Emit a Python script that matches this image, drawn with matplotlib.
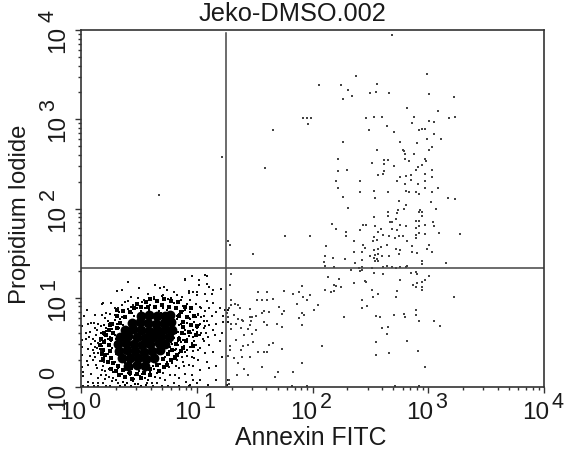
import numpy as np
import matplotlib
matplotlib.use('Agg')
import matplotlib.pyplot as plt
import matplotlib.ticker as tck

plt.rcParams['font.family'] = ['Liberation Sans', 'DejaVu Sans']

title = "Jeko-DMSO.002"
xlabel = "Annexin FITC"
ylabel = "Propidium Iodide"
decades = [0, 1, 2, 3, 4]
gate_x = 17.9
gate_y = 21.5

# all events as (log10 annexin, log10 PI)
core = np.array([
    (.52,.80),(.59,.81),(.66,.80),(.73,.79),(.77,.81),
    (.44,.72),(.51,.73),(.58,.72),(.65,.71),(.72,.72),(.78,.73),
    (.38,.64),(.45,.65),(.52,.64),(.59,.63),(.66,.64),(.73,.65),(.79,.64),
    (.34,.56),(.41,.57),(.48,.56),(.55,.55),(.62,.56),(.69,.57),(.76,.56),
    (.32,.48),(.39,.49),(.46,.48),(.53,.47),(.60,.48),(.67,.49),(.73,.48),
    (.33,.40),(.40,.41),(.47,.40),(.54,.39),(.61,.40),(.68,.41),
    (.35,.32),(.42,.33),(.49,.32),(.56,.31),(.63,.32),
    (.41,.24),(.48,.25),(.55,.24),
])
shell = np.array([
    (.46,.88),(.52,.90),(.58,.90),(.64,.90),(.70,.92),(.76,.90),(.82,.88),(.86,.84),(.42,.84),(.38,.78),
    (.34,.72),(.31,.66),(.28,.60),(.26,.54),(.24,.47),(.25,.40),(.26,.33),(.28,.27),(.32,.24),(.36,.19),
    (.42,.16),(.48,.15),(.54,.16),(.60,.20),(.66,.25),(.71,.31),(.75,.37),(.79,.42),(.82,.48),(.85,.54),
    (.87,.60),(.88,.67),(.88,.73),(.85,.79),
    (.22,.58),(.20,.50),(.19,.42),(.21,.36),(.23,.28),(.30,.18),(.38,.11),(.44,.09),(.52,.10),(.60,.13),
    (.67,.18),(.72,.22),(.78,.30),(.83,.36),(.88,.44),(.91,.52),(.93,.62),(.95,.70),(.92,.78),(.90,.90),
    (.78,.96),(.66,.96),(.56,.95),(.48,.93),(.36,.85),(.31,.79),(.27,.71),(.24,.64),
    (.97,.46),(.99,.58),(1.00,.68),(.98,.80),(.95,.88),(.84,.95),(.72,.99),(.60,.99),(.86,.40),(.81,.33),
    (.74,.25),(.16,.47),(.17,.54),(.18,.37),(.19,.30),(.26,.20),(.33,.14),(.20,.60),(.25,.69),(.31,.86),
])
halo = np.array([
    (.53,.95),(.60,.92),(.66,.97),(.71,.93),(.75,.99),(.80,.94),(.84,.96),(.88,.91),(.92,.93),(.96,.90),
    (.63,.99),(.70,1.02),(.78,1.00),(.86,.98),
    (.29,.81),(.33,.84),(.37,.80),(.41,.87),(.44,.83),(.48,.88),(.52,.85),(.55,.89),(.59,.86),(.63,.88),
    (.67,.85),(.71,.89),(.74,.86),(.78,.84),(.82,.87),(.85,.82),(.88,.85),(.91,.80),(.94,.84),(.97,.79),
    (1.01,.82),(.35,.78),(.46,.80),(.57,.82),(.69,.83),(.76,.82),(.83,.79),(.90,.86),(.99,.78),(.43,.90),
    (.20,.70),(.23,.74),(.26,.68),(.29,.75),(.31,.71),(.34,.76),(.36,.69),(.80,.72),(.83,.76),(.85,.69),
    (.87,.74),(.89,.67),(.92,.72),(.94,.76),(.96,.69),(.98,.73),(1.00,.66),(1.03,.71),(1.06,.74),(.22,.66),
    (.27,.65),(.81,.66),(.86,.71),(.90,.64),(.93,.77),(.97,.64),(1.02,.69),(.25,.72),(.33,.66),(.84,.62),
    (.17,.61),(.20,.58),(.22,.63),(.25,.56),(.27,.61),(.29,.58),(.23,.54),(.18,.55),(.82,.60),(.85,.56),
    (.87,.62),(.90,.59),(.92,.54),(.95,.60),(.97,.56),(1.00,.62),(1.03,.58),(.84,.52),(.88,.53),(.93,.57),
    (.98,.52),(.80,.55),(.78,.50),(.26,.52),(.21,.53),(.30,.54),(.86,.50),(.91,.50),(.96,.49),(.76,.47),
    (.15,.49),(.18,.46),(.21,.50),(.24,.47),(.27,.44),(.29,.49),(.16,.43),(.20,.42),(.25,.41),(.31,.42),
    (.74,.50),(.77,.45),(.79,.48),(.82,.43),(.84,.47),(.87,.42),(.89,.46),(.92,.41),(.94,.45),(.72,.44),
    (.76,.40),(.81,.41),(.85,.38),(.90,.39),(.70,.42),(.68,.38),
    (.17,.36),(.20,.33),(.23,.37),(.27,.34),(.30,.37),(.33,.33),(.19,.30),(.24,.29),(.29,.28),(.35,.30),
    (.38,.27),(.42,.29),(.46,.26),(.50,.30),(.55,.27),(.59,.31),(.63,.28),(.66,.33),(.70,.30),(.73,.34),
    (.77,.31),(.80,.35),(.62,.24),(.68,.26),(.74,.28),(.79,.27),(.57,.23),(.52,.25),(.47,.22),(.41,.24),
    (.24,.20),(.28,.17),(.32,.21),(.35,.15),(.38,.19),(.41,.16),(.44,.20),(.47,.14),(.50,.18),(.53,.15),
    (.56,.19),(.60,.17),(.63,.20),(.66,.16),(.33,.12),(.37,.10),(.42,.13),(.46,.09),(.51,.12),(.55,.10),
    (.36,.06),(.40,.04),(.45,.07),(.49,.03),(.30,.08),(.58,.08),(.64,.11),
    (.34,.01),(.38,.02),(.43,.01),(.47,.03),(.52,.01),(.56,.02),
])
fringe_left = np.array([
    (.03,.79),(.06,.71),(.09,.72),(.18,.93),(.26,.94),(.38,.95),(.43,1.01),(.32,.88),(.22,.83),(.18,.81),
    (.15,.71),(.12,.66),(.04,.61),(.08,.62),(.01,.45),(.04,.54),(.06,.43),(.10,.54),(.08,.35),(.05,.29),
    (.01,.22),(.02,.17),(.06,.25),(.10,.30),(.09,.15),(.15,.38),(.15,.10),(.18,.19),(.13,.25),(.20,.28),
    (.22,.13),(.25,.19),(.28,.10),(.18,.32),(.15,.49),(.12,.45),(.11,.38),(.01,.68),(.005,.36),(.005,.53),
    (.02,.12),(.06,.06),(.10,.04),(.19,.05),(.15,.04),(.05,.86),(.12,.81),
    (.02,.01),(.06,.01),(.11,.01),(.15,.01),(.22,.01),(.25,.01),(.62,.01),(.70,.01),(.75,.01),(.85,.01),(.93,.01),
    (.41,1.18),(.64,1.14),(.35,1.09),(.31,1.08),(.50,1.11),(.90,1.21),(.96,1.24),(1.07,1.25),(1.09,1.15),
    (.19,.94),(.11,.72),(.68,1.11),(.74,1.09),(.93,1.05),(1.00,1.07),(.83,1.03),(.54,.97),(.63,1.01),(.71,1.03),(.45,.92),
    (.13,.58),(.16,.52),(.12,.51),(.14,.44),(.17,.40),(.12,.34),(.16,.29),(.14,.21),(.19,.24),(.21,.18),
    (.17,.14),(.24,.11),(.27,.07),(.32,.04),(.21,.09),(.10,.42),(.09,.48),(.07,.56),(.14,.64),(.17,.68),
    (.21,.77),(.25,.82),(.29,.88),(.35,.92),(.41,.96),(.49,1.00),(.58,1.04),(.80,1.06),(.87,1.01),(.94,.97),
    (.99,.93),(1.03,.90),(1.07,.85),(1.04,.78),(1.09,.74),(1.06,.66),(1.01,.58),(1.08,.60),(1.05,.54),(.99,.47),
    (1.03,.44),(.97,.40),(.92,.35),(.98,.32),(.87,.34),(.83,.30),(.89,.24),(.82,.24),(.76,.22),(.71,.16),
    (.77,.14),(.68,.10),(.73,.08),(.61,.05),(.66,.04),(.57,.05),
])
fringe_right = np.array([
    (1.09,1.24),(1.02,1.20),(.90,1.20),(1.02,1.14),(1.11,1.12),(.72,1.12),(.93,1.08),(.97,1.07),(1.00,1.03),
    (1.07,1.04),(1.13,1.04),(1.21,1.10),(1.20,.88),(1.17,.84),(1.23,.79),(1.14,.94),(1.09,.96),(1.11,.88),
    (1.04,.88),(1.06,.79),(1.13,.79),(1.01,.81),(1.17,.71),(1.23,.73),(1.14,.64),(1.11,.69),(1.07,.68),
    (1.04,.60),(1.10,.56),(1.16,.58),(1.22,.60),(1.20,.51),(1.11,.47),(1.06,.51),(1.01,.41),(1.07,.38),
    (1.14,.39),(1.22,.34),(1.09,.28),(1.01,.30),(.96,.34),(.97,.23),(.93,.25),(.88,.28),(.85,.21),(.90,.15),
    (.96,.13),(1.03,.19),(1.11,.21),(1.17,.23),(.97,.08),(1.03,.08),(.91,.06),(.85,.10),(.81,.13),(.80,.04),
    (1.27,.08),(1.26,.02),(1.27,.86),(1.24,.86),(1.27,.73),(1.14,1.09),(1.17,.08),(1.10,.02),(.94,.02),(1.00,.04),
])
middle = np.array([
    (1.30,1.27),(1.29,1.14),(1.30,.97),(1.30,.92),(1.28,.89),(1.33,.93),(1.36,.92),(1.37,.88),(1.46,.87),
    (1.53,1.07),(1.61,1.07),(1.52,.97),(1.56,.97),(1.61,.97),(1.66,.99),(1.71,.90),(1.58,.85),(1.56,.83),
    (1.62,.84),(1.51,.80),(1.46,.78),(1.48,.78),(1.26,.83),(1.27,.78),(1.32,.81),(1.36,.76),(1.39,.75),
    (1.40,.74),(1.30,.71),(1.34,.71),(1.47,.74),(1.58,.73),(1.61,.69),(1.69,.71),(1.46,.69),(1.44,.65),
    (1.38,.66),(1.30,.65),(1.51,.64),(1.41,.58),(1.34,.53),(1.48,.59),(1.49,.50),(1.44,.47),(1.40,.46),
    (1.62,.47),(1.66,.49),(1.29,.46),(1.29,.41),(1.38,.41),(1.53,.39),(1.58,.39),(1.61,.39),(1.27,.35),
    (1.32,.32),(1.39,.34),(1.46,.34),(1.36,.27),(1.56,.22),(1.41,.20),(1.35,.13),(1.44,.13),(1.70,.17),
    (1.68,.11),(1.28,.08),(1.28,.03),(1.27,1.64),(1.29,1.59),(1.49,1.49),(1.22,2.58),(.67,2.15),(1.59,2.45),(1.66,2.88),
])
apoptotic = np.array([
    (2.69,3.94),(2.38,3.48),(2.99,3.51),(2.06,3.38),(2.25,3.38),(2.56,3.40),(2.31,3.33),(2.34,3.26),(2.26,3.23),
    (2.50,3.29),(2.55,3.30),(2.66,3.29),(3.01,3.28),(3.22,3.25),(2.82,3.13),(1.92,3.01),(1.95,3.01),(1.99,3.01),
    (1.96,2.95),(2.46,3.01),(2.53,3.03),(2.60,3.03),(2.88,3.03),(2.86,2.96),(3.08,3.09),(3.18,3.01),(3.23,3.03),
    (3.01,2.98),(3.05,2.97),(2.64,2.92),(2.49,2.88),(2.70,2.86),(2.92,2.88),(2.95,2.89),(2.97,2.89),(3.05,2.83),
    (3.11,2.78),(2.99,2.78),(2.26,2.75),(2.76,2.75),(2.90,2.73),(3.03,2.69),(3.01,2.66),(2.56,2.65),(2.78,2.66),
    (2.79,2.64),(2.80,2.61),(2.88,2.61),(2.22,2.56),(2.80,2.56),(2.62,2.54),(2.65,2.54),(2.97,2.56),(2.98,2.53),
    (2.51,2.51),(2.62,2.50),(2.83,2.53),(2.70,2.48),(2.95,2.49),(2.91,2.47),(2.22,2.42),(2.30,2.43),(2.62,2.42),
    (2.61,2.39),(2.57,2.38),(2.89,2.43),(3.03,2.43),(2.97,2.39),(2.85,2.38),(2.81,2.36),(2.76,2.35),(2.73,2.31),
    (2.85,2.32),(2.20,2.31),(2.41,2.31),(2.80,2.28),(2.91,2.28),(3.03,2.35),(2.97,2.31),(2.22,2.23),(2.97,2.23),
    (3.08,2.23),(2.53,2.20),(2.41,2.18),(2.65,2.18),(2.81,2.20),(2.83,2.19),(2.89,2.19),(2.92,2.16),(3.03,2.19),
    (2.26,2.13),(2.54,2.12),(2.75,2.08),(3.17,2.12),(3.23,2.11),(3.02,2.07),(2.81,2.04),(2.79,2.00),(2.31,2.01),
    (2.74,1.98),(3.07,2.00),(2.93,1.98),(2.92,1.96),(2.95,1.96),(2.65,1.96),(2.73,1.95),(2.65,1.92),(2.95,1.92),
    (2.53,1.90),(2.72,1.88),(2.69,1.85),(2.67,1.85),(2.89,1.86),(2.92,1.86),(3.04,1.85),(2.17,1.83),(2.44,1.81),
    (2.46,1.81),(2.54,1.80),(2.76,1.81),(2.81,1.80),(2.89,1.78),(2.92,1.80),(2.97,1.81),(3.05,1.80),(2.20,1.77),
    (2.59,1.77),(2.69,1.77),
    (1.76,1.69),(1.98,1.69),(2.29,1.74),(2.29,1.69),(2.41,1.76),(2.53,1.68),(2.57,1.74),(2.61,1.70),(2.66,1.69),
    (2.71,1.67),(2.73,1.76),(2.75,1.69),(2.78,1.69),(2.89,1.70),(2.92,1.72),(2.97,1.71),(3.09,1.73),(3.27,1.71),
    (2.36,1.64),(2.52,1.64),(2.56,1.65),(2.82,1.64),(2.89,1.67),(2.12,1.58),(2.44,1.59),(2.45,1.56),(2.57,1.55),
    (2.64,1.59),(2.59,1.57),(2.76,1.53),(2.72,1.55),(2.86,1.58),(3.01,1.59),(2.99,1.55),(2.36,1.51),(2.43,1.51),
    (2.53,1.53),(2.86,1.51),(2.90,1.50),(3.03,1.51),(2.75,1.49),(2.11,1.47),(2.50,1.47),(2.54,1.48),(2.57,1.49),
    (2.60,1.47),(2.66,1.47),(2.18,1.44),(2.28,1.43),(2.43,1.42),(2.53,1.44),(2.56,1.43),(2.57,1.41),(2.54,1.41),
    (2.10,1.40),(2.37,1.39),(2.95,1.41),(2.95,1.38),(3.15,1.39),(2.11,1.36),(2.19,1.35),(2.43,1.35),(2.51,1.33),
    (2.61,1.35),(2.64,1.36),(2.69,1.35),(2.72,1.33),(2.76,1.35),(2.81,1.35),(2.82,1.36),(2.33,1.31),(2.40,1.33),
    (2.41,1.30),(2.43,1.31),(2.53,1.28),(2.61,1.27),(2.85,1.28),(2.89,1.29),(2.90,1.27),(2.13,1.23),(2.23,1.21),
    (3.01,1.24),(2.97,1.20),(2.95,1.18),(2.76,1.20),(2.45,1.19),(2.46,1.18),(2.36,1.16),(2.19,1.14),(2.20,1.13),
    (2.25,1.12),(2.90,1.16),(2.87,1.14),(2.89,1.12),(2.95,1.12),(2.95,1.09),(2.11,1.09),(2.16,1.07),(2.19,1.08),
    (2.51,1.09),(2.73,1.08),(2.52,1.01),(2.57,1.04),(2.72,1.01),(3.22,1.01),(2.43,.98),(1.75,1.08),(1.91,1.13),
    (1.88,1.07),(1.83,1.04),(1.92,1.01),(1.98,1.03),(1.95,.97),(1.87,.93),(2.05,.92),(2.01,.86),(2.43,.89),
    (2.47,.91),(1.75,.85),(1.74,.82),(1.91,.83),(1.93,.81),(1.88,.77),(1.91,.70),(1.74,.67),(2.27,.78),(2.55,.80),
    (2.58,.78),(2.70,.81),(2.79,.82),(2.80,.78),(2.89,.86),(2.89,.81),(2.92,.74),(3.05,.74),(3.10,.68),(2.60,.66),
    (2.65,.67),(2.64,.59),(2.82,.51),(2.55,.50),(2.08,.46),(1.74,.43),(2.91,.40),(2.55,.36),(2.66,.38),(2.97,.22),
    (1.91,.27),(1.83,.17),(1.82,.01),(1.95,.01),(2.71,.01),(2.92,.01),
])

W, H = 565, 455
fig = plt.figure(figsize=(W/100, H/100), dpi=100)
ax = fig.add_axes([81/W, (H-387)/H, (544-81)/W, (387-30)/H])
ax.set_xscale('log')
ax.set_yscale('log')
ax.set_xlim(1, 1e4)
ax.set_ylim(1, 1e4)

ax.scatter(10**core[:,0], 10**core[:,1], s=50, c='black', linewidths=0)
ax.scatter(10**shell[:,0], 10**shell[:,1], s=9, c='black', marker='s', linewidths=0)
ax.scatter(10**halo[:,0], 10**halo[:,1], s=2.6, c='black', marker='s', linewidths=0)
sparse = np.vstack([fringe_left, fringe_right])
ax.scatter(10**sparse[:,0], 10**sparse[:,1], s=1.2, c='#111111', marker='s', linewidths=0)
ax.scatter(10**middle[:,0], 10**middle[:,1], s=1.0, c='#444444', marker='s', linewidths=0)
ax.scatter(10**apoptotic[:,0], 10**apoptotic[:,1], s=1.0, c='#444444', marker='s', linewidths=0)

ax.plot([gate_x, gate_x], [1, 10**3.966], color='#444444', lw=1.1)
ax.axhline(gate_y, color='#444444', lw=1.1)

for s in ax.spines.values():
    s.set_color('#333333')
    s.set_linewidth(1.2)
ax.tick_params(which='major', direction='out', length=4, width=1, color='#333333', labelbottom=False, labelleft=False)
ax.tick_params(which='minor', direction='out', length=2.2, width=1, color='#333333')
for axis in (ax.xaxis, ax.yaxis):
    axis.set_major_locator(tck.LogLocator(base=10, numticks=6))
    axis.set_minor_locator(tck.LogLocator(base=10, subs=np.arange(2, 10), numticks=6))
    axis.set_major_formatter(tck.NullFormatter())
    axis.set_minor_formatter(tck.NullFormatter())

# exponents are separate texts, the instrument software offsets them from the tick
big = 17.5
small = 15.5
dark = '#1a1a1a'
for d in decades:
    ax.annotate('10', (10**d, 1), xycoords='data', xytext=(5, -15), textcoords='offset pixels',
                ha='right', va='top', fontsize=big, color=dark, annotation_clip=False)
    ax.annotate(str(d), (10**d, 1), xycoords='data', xytext=(7, -5), textcoords='offset pixels',
                ha='left', va='top', fontsize=small, color=dark, annotation_clip=False)
    ax.annotate('10', (1, 10**d), xycoords='data', xytext=(-12, 4), textcoords='offset pixels',
                ha='right', va='top', rotation=90, fontsize=big, color=dark, annotation_clip=False)
    ax.annotate(str(d), (1, 10**d), xycoords='data', xytext=(-22, 8), textcoords='offset pixels',
                ha='right', va='bottom', rotation=90, fontsize=small, color=dark, annotation_clip=False)

fig.text(292/W, 1-14/H, title, ha='center', va='center', fontsize=18.3, color=dark)
fig.text(311/W, 1-438/H, xlabel, ha='center', va='center', fontsize=17.8, color=dark)
fig.text(20/W, 1-214/H, ylabel, ha='center', va='center', rotation=90, fontsize=17.2, color=dark)

fig.savefig('out.png', dpi=100)
